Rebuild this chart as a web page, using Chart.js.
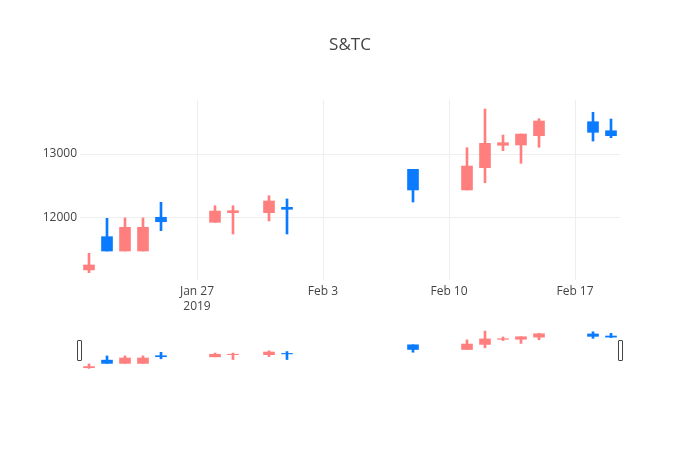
<!DOCTYPE html>
<html lang="en">
<head>
    <meta charset="UTF-8">
    <title>S&amp;TC</title>
    <script src="https://cdn.jsdelivr.net/npm/chart.js"></script>
    <style>
        body { margin: 0; background-color: #fff; font-family: "Open Sans", sans-serif; }
        .wrap { position: relative; width: 700px; height: 450px; }
        #mainChart { position: absolute; left: 0; top: 0; }
        #sliderChart { position: absolute; left: 0; top: 329px; }
        .grabber {
            position: absolute; top: 340px; width: 3px; height: 19px;
            border: 1px solid #444; border-radius: 1px; background: #fff;
        }
    </style>
</head>
<body>
    <div class="wrap">
        <canvas id="mainChart" width="700" height="450"></canvas>
        <canvas id="sliderChart" width="700" height="41"></canvas>
        <div class="grabber" style="left:77px"></div>
        <div class="grabber" style="left:618px"></div>
    </div>

    <script>
        // daily candles
        const dates = ['2019-01-21', '2019-01-22', '2019-01-23', '2019-01-24', '2019-01-25',
                       '2019-01-28', '2019-01-29', '2019-01-31', '2019-02-01', '2019-02-08',
                       '2019-02-11', '2019-02-12', '2019-02-13', '2019-02-14', '2019-02-15',
                       '2019-02-18', '2019-02-19'];
        const open  = [11188, 11708, 11484, 11484, 12011, 11933, 12083, 12083, 12167, 12761,
                       12438, 12786, 13136, 13141, 13286, 13505, 13364];
        const high  = [11448, 11995, 12000, 12000, 12245, 12192, 12192, 12348, 12297, 12761,
                       13098, 13703, 13297, 13312, 13552, 13652, 13547];
        const low   = [11145, 11484, 11484, 11484, 11802, 11933, 11750, 11953, 11750, 12250,
                       12438, 12552, 13052, 12855, 13105, 13203, 13255];
        const close = [11266, 11484, 11854, 11854, 11942, 12109, 12114, 12266, 12136, 12438,
                       12812, 13167, 13177, 13312, 13516, 13339, 13286];

        const tickDates = ['2019-01-27', '2019-02-03', '2019-02-10', '2019-02-17'];
        const tickLabels = [['Jan 27', '2019'], 'Feb 3', 'Feb 10', 'Feb 17'];
        const yTicks = [12000, 13000];

        const upColor = '#ff7f7f';
        const downColor = '#0a7bff';

        const base = Date.UTC(2019, 0, 27);
        function dayOf(s) {
            const p = s.split('-').map(Number);
            return (Date.UTC(p[0], p[1] - 1, p[2]) - base) / 86400000;
        }

        const xs = dates.map(dayOf);
        const colors = dates.map((d, i) => close[i] >= open[i] ? upColor : downColor);
        const xMin = xs[0] - 0.5, xMax = xs[xs.length - 1] + 0.5;
        const yMin = 11031, yMax = 13844;

        function candleSets() {
            return [{
                label: 'body',
                data: xs.map((x, i) => ({ x: x, y: [open[i], close[i]] })),
                backgroundColor: colors,
                barThickness: 11,
                borderWidth: 0,
                borderSkipped: false,
                grouped: false
            }, {
                label: 'wick',
                data: xs.map((x, i) => ({ x: x, y: [low[i], high[i]] })),
                backgroundColor: colors,
                barThickness: 2,
                borderWidth: 0,
                borderSkipped: false,
                grouped: false
            }];
        }

        Chart.defaults.font.family = '"Open Sans", sans-serif';
        Chart.defaults.color = '#444';

        new Chart(document.getElementById('mainChart'), {
            type: 'bar',
            data: { datasets: candleSets() },
            options: {
                responsive: false,
                animation: false,
                layout: { padding: 0 },
                plugins: {
                    legend: { display: false },
                    tooltip: { enabled: false },
                    title: {
                        display: true,
                        text: 'S&TC',
                        color: '#444',
                        font: { size: 17, weight: 'normal' },
                        padding: { top: 35, bottom: 44.6 }
                    }
                },
                scales: {
                    x: {
                        type: 'linear',
                        min: xMin,
                        max: xMax,
                        offset: false,
                        grid: { color: '#eee', drawTicks: false, offset: false },
                        border: { display: false },
                        afterBuildTicks: function (scale) {
                            scale.ticks = tickDates.map(d => ({ value: dayOf(d) }));
                        },
                        afterFit: function (scale) { scale.height = 170; },
                        ticks: {
                            padding: 4,
                            maxRotation: 0,
                            font: { size: 12, lineHeight: 1.25 },
                            callback: function (v) {
                                const i = tickDates.findIndex(d => dayOf(d) === v);
                                return i >= 0 ? tickLabels[i] : '';
                            }
                        }
                    },
                    y: {
                        min: yMin,
                        max: yMax,
                        grid: { color: '#eee', drawTicks: false },
                        border: { display: false },
                        afterBuildTicks: function (scale) {
                            scale.ticks = yTicks.map(v => ({ value: v }));
                        },
                        afterFit: function (scale) { scale.width = 80; },
                        ticks: {
                            padding: 3,
                            font: { size: 12 },
                            callback: v => String(v)
                        }
                    },
                    // empty right margin so the title centres on the page
                    yRight: {
                        position: 'right',
                        min: yMin,
                        max: yMax,
                        grid: { display: false },
                        border: { display: false },
                        ticks: { display: false },
                        afterFit: function (scale) { scale.width = 80; }
                    }
                }
            }
        });

        // range slider preview
        new Chart(document.getElementById('sliderChart'), {
            type: 'bar',
            data: { datasets: candleSets() },
            options: {
                responsive: false,
                animation: false,
                layout: { padding: { left: 80, right: 80, top: 0, bottom: 0 } },
                plugins: { legend: { display: false }, tooltip: { enabled: false } },
                scales: {
                    x: { type: 'linear', min: xMin, max: xMax, offset: false, display: false },
                    y: { min: yMin, max: yMax, display: false }
                }
            }
        });
    </script>
</body>
</html>
